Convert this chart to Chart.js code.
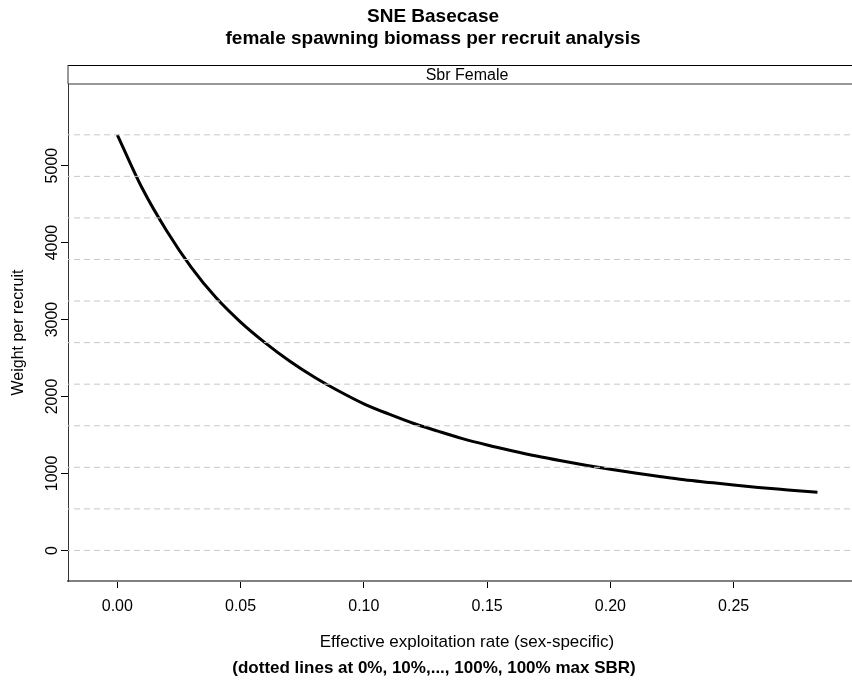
<!DOCTYPE html>
<html>
<head>
<meta charset="utf-8">
<script src="https://cdn.jsdelivr.net/npm/chart.js@4.4.1/dist/chart.umd.min.js"></script>
<style>
  body { margin: 0; background: #fff; }
  #wrap { width: 852px; height: 680px; }
</style>
</head>
<body>
<div id="wrap"><canvas id="chart" width="852" height="680"></canvas></div>
<script>
// effective exploitation rate and female spawning biomass per recruit
const rate = [0, 0.01, 0.02, 0.03, 0.04, 0.05, 0.06, 0.07, 0.08, 0.09,
              0.10, 0.11, 0.12, 0.13, 0.14, 0.15, 0.16, 0.17, 0.18, 0.19,
              0.20, 0.21, 0.22, 0.23, 0.24, 0.25, 0.26, 0.27, 0.28, 0.284];
const sbr = [5400, 4712, 4154, 3678, 3285, 2967, 2697, 2458, 2250, 2068,
             1905, 1773, 1652, 1550, 1453, 1370, 1296, 1227, 1165, 1107,
             1055, 1006, 961, 919, 884, 850, 819, 792, 766, 757];

// dotted reference lines at 0%, 10%, ..., 100% of max SBR
const sbrLevels = [0, 540, 1080, 1620, 2160, 2700, 3240, 3780, 4320, 4860, 5400];

const xTicks = [0, 0.05, 0.10, 0.15, 0.20, 0.25];
const yTicks = [0, 1000, 2000, 3000, 4000, 5000];

const FONT = '"Liberation Sans", Arial, Helvetica, sans-serif';

const refLines = sbrLevels.map(lvl => ({
    data: [{x: -0.05, y: lvl}, {x: 0.35, y: lvl}],
    borderColor: '#c8c8c8',
    borderWidth: 1,
    borderDash: [6, 4],
    pointRadius: 0
}));

const curve = {
    data: rate.map((r, i) => ({x: r, y: sbr[i]})),
    borderColor: '#000',
    borderWidth: 3,
    pointRadius: 0,
    cubicInterpolationMode: 'monotone'
};

// strip, panel border extension and titles drawn like a lattice panel
const lattice = {
    id: 'lattice',
    afterDraw(chart) {
        const ctx = chart.ctx;
        const a = chart.chartArea;
        ctx.save();
        // strip
        ctx.strokeStyle = '#000';
        ctx.lineWidth = 1;
        ctx.beginPath();
        ctx.moveTo(a.left, 65.5);
        ctx.lineTo(852, 65.5);
        ctx.stroke();
        ctx.strokeStyle = '#333';
        ctx.beginPath();
        ctx.moveTo(a.left, a.top);
        ctx.lineTo(852, a.top);
        ctx.stroke();
        ctx.beginPath();
        ctx.moveTo(a.left, 65);
        ctx.lineTo(a.left, a.top);
        ctx.stroke();
        ctx.fillStyle = '#000';
        ctx.textAlign = 'center';
        ctx.textBaseline = 'middle';
        ctx.font = '16px ' + FONT;
        ctx.fillText('Sbr Female', 467, 76);
        // main title
        ctx.font = 'bold 19px ' + FONT;
        ctx.fillText('SNE Basecase', 433, 17);
        ctx.fillText('female spawning biomass per recruit analysis', 433, 39);
        // x axis label and caption
        ctx.font = '17px ' + FONT;
        ctx.fillText('Effective exploitation rate (sex-specific)', 467, 642);
        ctx.font = 'bold 17px ' + FONT;
        ctx.fillText('(dotted lines at 0%, 10%,..., 100%, 100% max SBR)', 434, 668);
        ctx.restore();
    }
};

const chart = new Chart(document.getElementById('chart'), {
    type: 'line',
    data: {
        datasets: [...refLines, curve]
    },
    options: {
        responsive: false,
        animation: false,
        layout: { padding: { top: 84, left: 0, right: 0, bottom: 0 } },
        plugins: {
            legend: { display: false },
            tooltip: { enabled: false }
        },
        scales: {
            x: {
                type: 'linear',
                min: -0.02,
                max: 0.298,
                afterBuildTicks: s => { s.ticks = xTicks.map(v => ({value: v})); },
                afterFit: s => { s.height = 99; },
                ticks: {
                    color: '#000',
                    font: { size: 16, family: FONT },
                    padding: 9,
                    maxRotation: 0,
                    callback: v => v.toFixed(2)
                },
                grid: {
                    display: true,
                    drawOnChartArea: false,
                    drawTicks: true,
                    tickLength: 7,
                    tickColor: '#000',
                    tickWidth: 1
                },
                border: { display: true, color: '#808080', width: 2 }
            },
            y: {
                min: -397,
                max: 6060,
                afterBuildTicks: s => { s.ticks = yTicks.map(v => ({value: v})); },
                afterFit: s => { s.width = 68; },
                ticks: {
                    color: '#000',
                    font: { size: 16, family: FONT },
                    minRotation: 90,
                    maxRotation: 90,
                    crossAlign: 'center',
                    padding: -9,
                    callback: v => String(v)
                },
                grid: {
                    display: true,
                    drawOnChartArea: false,
                    drawTicks: true,
                    tickLength: 7,
                    tickColor: '#000',
                    tickWidth: 1
                },
                border: { display: true, color: '#333', width: 1 },
                title: {
                    display: true,
                    text: 'Weight per recruit',
                    color: '#000',
                    font: { size: 16, family: FONT },
                    padding: { top: 9, bottom: 0 }
                }
            }
        }
    },
    plugins: [lattice]
});
</script>
</body>
</html>
